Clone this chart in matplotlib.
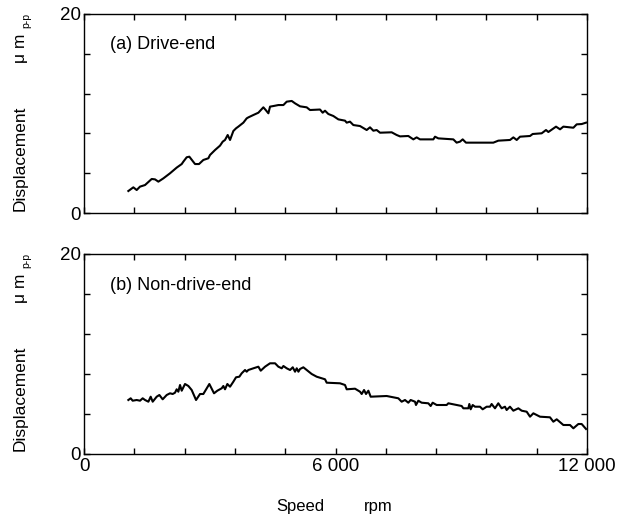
import matplotlib.pyplot as plt

plt.rcParams['font.family'] = ['Liberation Sans', 'DejaVu Sans']

# (a) drive-end, speed in rpm, displacement in um p-p
speed_a = [1058, 1177, 1257, 1336, 1456, 1615, 1694, 1774, 1893, 2052, 2211, 2331,
           2370, 2450, 2513, 2649, 2744, 2847, 2967, 3006, 3126, 3245, 3309, 3364,
           3428, 3484, 3563, 3627, 3682, 3802, 3881, 3921, 4041, 4160, 4279, 4335,
           4399, 4438, 4518, 4637, 4757, 4836, 4956, 5035, 5154, 5313, 5392, 5631,
           5694, 5750, 5829, 5948, 6068, 6227, 6267, 6346, 6426, 6585, 6744, 6823,
           6903, 6982, 7062, 7340, 7459, 7539, 7737, 7857, 7936, 8016, 8334, 8374,
           8453, 8811, 8890, 8970, 9034, 9113, 9765, 9884, 10164, 10243, 10323,
           10402, 10641, 10704, 10919, 11022, 11078, 11261, 11357, 11436, 11675,
           11754, 11873, 11977]
disp_a = [2.21, 2.58, 2.31, 2.65, 2.81, 3.42, 3.38, 3.15, 3.48, 3.99, 4.56, 4.92,
          5.16, 5.60, 5.66, 4.92, 4.92, 5.33, 5.50, 5.83, 6.33, 6.77, 7.17, 7.34,
          7.84, 7.34, 8.24, 8.51, 8.68, 9.08, 9.51, 9.61, 9.85, 10.08, 10.62, 10.35,
          10.02, 10.69, 10.75, 10.85, 10.85, 11.19, 11.26, 11.02, 10.72, 10.62, 10.35,
          10.40, 10.08, 10.28, 9.95, 9.75, 9.41, 9.28, 9.08, 9.18, 8.84, 8.74, 8.34,
          8.61, 8.27, 8.34, 8.07, 8.11, 7.84, 7.70, 7.74, 7.40, 7.60, 7.40, 7.40,
          7.67, 7.50, 7.40, 7.07, 7.17, 7.40, 7.07, 7.07, 7.27, 7.34, 7.60, 7.34,
          7.67, 7.74, 7.94, 8.01, 8.34, 8.14, 8.68, 8.41, 8.68, 8.57, 8.91, 8.94,
          9.08]

# (b) non-drive-end
speed_b = [1058, 1114, 1161, 1257, 1336, 1400, 1456, 1536, 1591, 1639, 1734, 1798,
           1877, 1973, 2052, 2116, 2171, 2211, 2251, 2291, 2331, 2410, 2490, 2569,
           2673, 2768, 2847, 2990, 3102, 3181, 3285, 3324, 3364, 3420, 3484, 3563,
           3627, 3706, 3762, 3842, 3881, 3921, 4041, 4160, 4216, 4319, 4438, 4558,
           4637, 4717, 4757, 4836, 4916, 4980, 5035, 5075, 5115, 5154, 5233, 5313,
           5432, 5551, 5750, 5790, 6108, 6227, 6267, 6466, 6585, 6625, 6681, 6728,
           6784, 6839, 7221, 7499, 7578, 7658, 7737, 7793, 7897, 7920, 7976, 8055,
           8215, 8270, 8318, 8414, 8652, 8692, 9010, 9050, 9169, 9193, 9225, 9273,
           9328, 9447, 9511, 9606, 9686, 9725, 9805, 9884, 9964, 10043, 10083,
           10162, 10243, 10362, 10442, 10561, 10641, 10720, 10879, 11117, 11197,
           11277, 11436, 11595, 11675, 11794, 11873, 11977]
disp_b = [5.40, 5.57, 5.33, 5.40, 5.33, 5.57, 5.40, 5.23, 5.73, 5.23, 5.73, 5.90,
          5.47, 5.90, 6.07, 6.00, 6.13, 6.47, 6.23, 6.90, 6.33, 7.00, 6.80, 6.40,
          5.40, 6.00, 6.00, 7.00, 6.07, 6.33, 6.57, 6.80, 6.47, 7.00, 6.73, 7.23,
          7.67, 7.73, 8.07, 8.40, 8.23, 8.40, 8.57, 8.73, 8.33, 8.73, 9.07, 9.07,
          8.73, 8.57, 8.80, 8.57, 8.40, 8.67, 8.23, 8.57, 8.23, 8.50, 8.67, 8.40,
          8.00, 7.73, 7.47, 7.13, 7.07, 6.90, 6.47, 6.53, 6.23, 6.00, 6.40, 6.00,
          6.33, 5.73, 5.80, 5.57, 5.23, 5.40, 5.13, 5.40, 5.23, 4.90, 5.33, 5.13,
          5.07, 4.80, 5.13, 4.90, 4.90, 5.07, 4.80, 4.57, 4.57, 5.00, 4.47, 4.90,
          4.73, 4.73, 4.47, 4.73, 4.73, 5.00, 4.57, 5.07, 4.57, 4.73, 4.40, 4.73,
          4.33, 4.57, 4.33, 4.23, 3.73, 4.07, 3.73, 3.67, 3.23, 3.47, 2.90, 2.90,
          2.57, 3.00, 3.00, 2.50]

x_ticks = [0, 1200, 2400, 3600, 4800, 6000, 7200, 8400, 9600, 10800, 12000]
x_labels = ['0', '', '', '', '', '6 000', '', '', '', '', '12 000']
y_ticks = [0, 4, 8, 12, 16, 20]
y_labels = ['0', '', '', '', '', '20']

fig = plt.figure(figsize=(6.29, 5.17), dpi=100)
ax1 = fig.add_axes([84/629, 1-213/517, 503/629, 199/517])
ax2 = fig.add_axes([84/629, 1-454/517, 503/629, 200/517])

for ax, sx, dy, lab in [(ax1, speed_a, disp_a, '(a) Drive-end'),
                        (ax2, speed_b, disp_b, '(b) Non-drive-end')]:
    ax.plot(sx, dy, color='black', lw=1.5)
    ax.set_xlim(0, 12000)
    ax.set_ylim(0, 20)
    ax.set_xticks(x_ticks)
    ax.set_yticks(y_ticks)
    ax.set_yticklabels(y_labels)
    ax.tick_params(direction='in', length=4.5, width=1, top=True, right=True,
                   labelsize=13.5, pad=2)
    for s in ax.spines.values():
        s.set_linewidth(1)
    ax.text(0.052, 0.845, lab, transform=ax.transAxes, fontsize=13,
            ha='left', va='center')

ax1.set_xticklabels([])
ax2.set_xticklabels(x_labels)
ax2.tick_params(axis='x', pad=3)

# y-axis labels
for yc, yu, ys in [(158, 48, 20), (398, 288, 260)]:
    fig.text(20/629, 1-yc/517, 'Displacement', rotation=90, fontsize=12.5,
             ha='center', va='center')
    fig.text(20/629, 1-yu/517, 'μ m', rotation=90, fontsize=12.5,
             ha='center', va='center')
    fig.text(26/629, 1-ys/517, 'p-p', rotation=90, fontsize=7.5,
             ha='center', va='center')

fig.text(300/629, 1-507/517, 'Speed', fontsize=12, ha='center', va='center')
fig.text(378/629, 1-507/517, 'rpm', fontsize=12, ha='center', va='center')

fig.savefig('out.png', dpi=100)
